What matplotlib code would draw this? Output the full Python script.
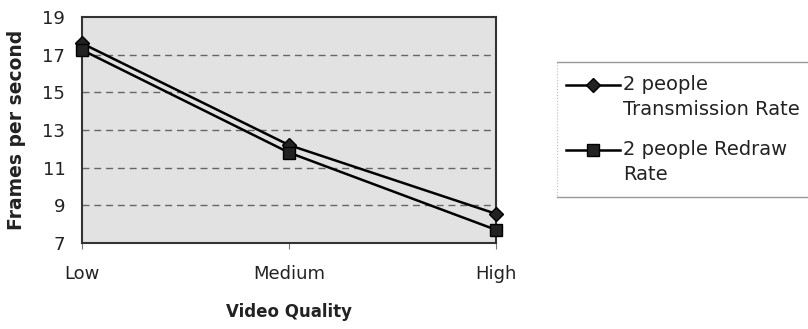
import matplotlib.pyplot as plt
from matplotlib.lines import Line2D

plt.rcParams['font.family'] = ['DejaVu Sans']

# Frame rates by video quality
quality = ['Low', 'Medium', 'High']
transmission_rate = [17.6, 12.2, 8.55]
redraw_rate = [17.25, 11.8, 7.7]
y_ticks = [7, 9, 11, 13, 15, 17, 19]
series_names = ['2 people\nTransmission Rate', '2 people Redraw\nRate']

W, H = 808, 329
fig = plt.figure(figsize=(W / 100, H / 100), dpi=100)
ax = fig.add_axes([82 / W, 1 - 243 / H, 414 / W, 226 / H])
ax.set_facecolor('#e2e2e2')

x = range(len(quality))
ax.plot(x, transmission_rate, color='black', lw=1.8, marker='D',
        markersize=7, markerfacecolor='#222222', clip_on=False, zorder=3)
ax.plot(x, redraw_rate, color='black', lw=1.8, marker='s',
        markersize=8, markerfacecolor='#222222', clip_on=False, zorder=3)

ax.set_xlim(0, 2)
ax.set_ylim(7, 19)
ax.set_xticks(list(x))
ax.set_xticklabels(quality, fontsize=13, color='#222222')
ax.set_yticks(y_ticks)
ax.set_yticklabels([str(v) for v in y_ticks], fontsize=13, color='#222222')
ax.tick_params(axis='x', length=4, pad=12, direction='out', color='#777777')
ax.tick_params(axis='y', length=0, pad=12)

for v in y_ticks[1:-1]:
    ax.axhline(v, color='#666666', lw=1, ls=(0, (5, 3.5)), zorder=1)

for side in ax.spines.values():
    side.set_color('#333333')
    side.set_linewidth(1.5)

ax.set_xlabel('Video Quality', fontsize=12, fontweight='bold', color='#222222')
ax.xaxis.set_label_coords(0.5, -0.265)
ax.xaxis.label.set_va('top')
ax.set_ylabel('Frames per second', fontsize=13.5, fontweight='bold',
              color='#222222')
ax.yaxis.set_label_coords(-0.135, 0.5)

# legend box: top/bottom rules, dotted left edge, open to the right
top, bottom, left = 1 - 62 / H, 1 - 197 / H, 557 / W
fig.add_artist(Line2D([left, 1], [top, top], transform=fig.transFigure,
                      color='#999999', lw=1))
fig.add_artist(Line2D([left, 1], [bottom, bottom], transform=fig.transFigure,
                      color='#999999', lw=1))
fig.add_artist(Line2D([left, left], [top, bottom], transform=fig.transFigure,
                      color='#bbbbbb', lw=0.8, ls=':'))

# legend entries, handle level with the first text line
for name, marker, size, hy in zip(series_names, ['D', 's'], [7, 8], [85, 150]):
    yy = 1 - hy / H
    fig.add_artist(Line2D([566 / W, 593 / W, 620 / W], [yy] * 3,
                          transform=fig.transFigure, color='black', lw=1.8,
                          marker=marker, markersize=size, markevery=[1],
                          markerfacecolor='#222222'))
    fig.text(623 / W, 1 - (hy - 10) / H, name, fontsize=14, color='#222222',
             va='top', ha='left', linespacing=1.4)

fig.savefig('out.png', dpi=100)
